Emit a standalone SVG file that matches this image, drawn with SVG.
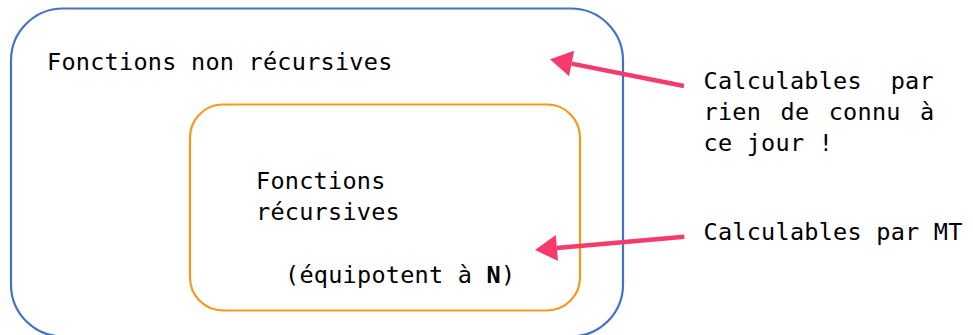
<svg xmlns="http://www.w3.org/2000/svg" width="973" height="335" viewBox="0 0 973 335">
<style>
text{font-family:"DejaVu Sans Mono","Liberation Mono",monospace;font-size:23.5px;letter-spacing:0.25px;fill:#000}
.outer{fill:none;stroke:#4472C4;stroke-width:2.2}
.inner{fill:none;stroke:#F7981D;stroke-width:2.2}
.arrow{fill:none;stroke:#F43B6B;stroke-width:4.5}
</style>
<defs>
<marker id="head" markerUnits="userSpaceOnUse" markerWidth="30" markerHeight="30" refX="0" refY="0" orient="auto" overflow="visible">
<path d="M0,-13 L22,0 L0,13 Z" fill="#F43B6B"/>
</marker>
</defs>
<rect width="973" height="335" fill="#fff"/>
<g id="non-recursives">
<rect class="outer" x="11" y="8.5" width="612" height="328" rx="52" ry="52"/>
<text x="47" y="69.5">Fonctions non récursives</text>
</g>
<g id="recursives">
<rect class="inner" x="190" y="104.5" width="390" height="206" rx="33" ry="33"/>
<text x="256" y="188.5">Fonctions</text>
<text x="256" y="220">récursives</text>
<text x="285" y="282.5">(équipotent à <tspan font-weight="bold">N</tspan>)</text>
</g>
<g id="label-rien">
<text x="703.5" y="88.5" word-spacing="14.4">Calculables par</text>
<text x="703.5" y="120" word-spacing="5">rien de connu à</text>
<text x="703.5" y="151">ce jour !</text>
</g>
<g id="label-mt">
<text x="703.5" y="240">Calculables par MT</text>
</g>
<g id="connectors">
<line class="arrow" x1="684" y1="86" x2="571.6" y2="63.6" marker-end="url(#head)"/>
<line class="arrow" x1="684.3" y1="236.7" x2="556.9" y2="248" marker-end="url(#head)"/>
</g>
</svg>
